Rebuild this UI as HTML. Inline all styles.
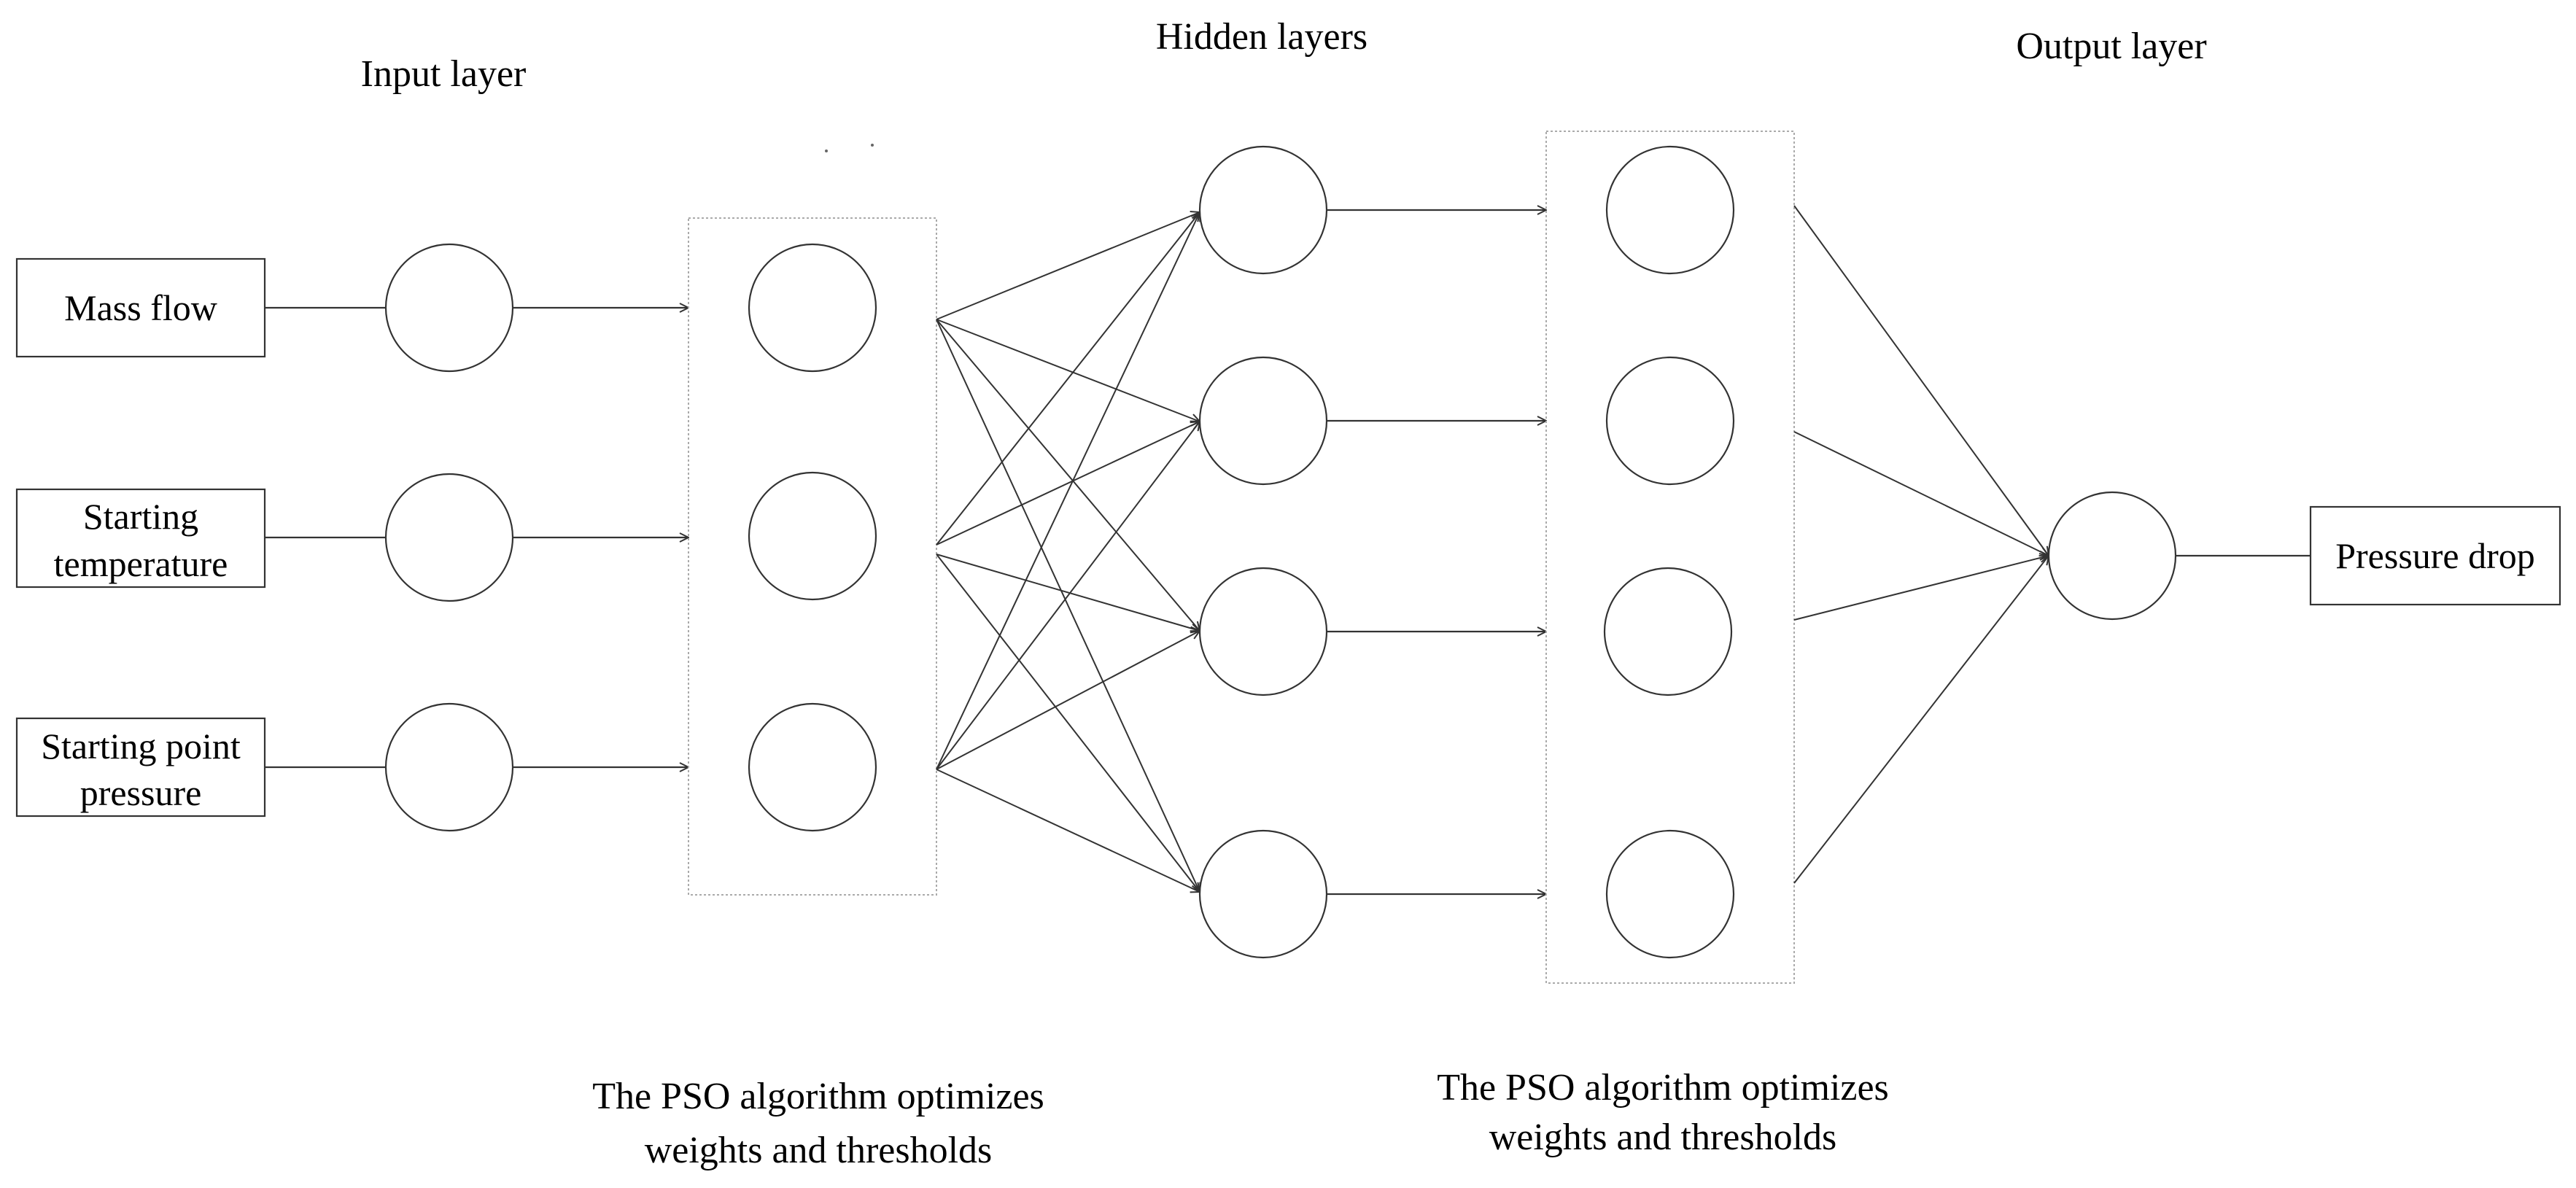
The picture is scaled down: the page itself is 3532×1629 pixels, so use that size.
<!DOCTYPE html>
<html><head><meta charset="utf-8"><style>
html,body{margin:0;padding:0;background:#fff;}
svg{display:block;}
text{font-family:"Liberation Serif",serif;fill:#000;}
</style></head><body>
<svg width="3532" height="1629" viewBox="0 0 3532 1629" xmlns="http://www.w3.org/2000/svg">
<defs>
<marker id="a" markerWidth="14" markerHeight="14" refX="13" refY="7" orient="auto" markerUnits="userSpaceOnUse">
<path d="M1,1 L13,7 L1,13" fill="none" stroke="#333" stroke-width="2"/>
</marker>
</defs>
<g stroke="#333" stroke-width="2.2" fill="none">
<!-- input boxes -->
<rect x="23" y="355" width="340" height="134"/>
<rect x="23" y="671" width="340" height="134"/>
<rect x="23" y="985" width="340" height="134"/>
<!-- input circles -->
<circle cx="616" cy="422" r="87"/>
<circle cx="616" cy="737" r="87"/>
<circle cx="616" cy="1052" r="87"/>
<line x1="363" y1="422" x2="529" y2="422"/>
<line x1="363" y1="737" x2="529" y2="737"/>
<line x1="363" y1="1052" x2="529" y2="1052"/>
<line x1="703" y1="422" x2="944" y2="422" marker-end="url(#a)"/>
<line x1="703" y1="737" x2="944" y2="737" marker-end="url(#a)"/>
<line x1="703" y1="1052" x2="944" y2="1052" marker-end="url(#a)"/>
<!-- first hidden box -->
<rect x="944" y="299" width="340" height="928" stroke="#aaa" stroke-width="2" stroke-dasharray="3,3"/>
<circle cx="1114" cy="422" r="87"/>
<circle cx="1114" cy="735" r="87"/>
<circle cx="1114" cy="1052" r="87"/>
<!-- full connections -->
<g stroke-width="2">
<line x1="1284" y1="438" x2="1645" y2="291" marker-end="url(#a)"/>
<line x1="1284" y1="438" x2="1645" y2="578" marker-end="url(#a)"/>
<line x1="1284" y1="438" x2="1645" y2="865" marker-end="url(#a)"/>
<line x1="1284" y1="438" x2="1645" y2="1223" marker-end="url(#a)"/>
<line x1="1284" y1="747" x2="1645" y2="291" marker-end="url(#a)"/>
<line x1="1284" y1="747" x2="1645" y2="578" marker-end="url(#a)"/>
<line x1="1284" y1="760" x2="1645" y2="865" marker-end="url(#a)"/>
<line x1="1284" y1="760" x2="1645" y2="1223" marker-end="url(#a)"/>
<line x1="1284" y1="1055" x2="1645" y2="291" marker-end="url(#a)"/>
<line x1="1284" y1="1055" x2="1645" y2="578" marker-end="url(#a)"/>
<line x1="1284" y1="1055" x2="1645" y2="865" marker-end="url(#a)"/>
<line x1="1284" y1="1055" x2="1645" y2="1223" marker-end="url(#a)"/>
</g>
<!-- hidden 1 circles -->
<circle cx="1732" cy="288" r="87"/>
<circle cx="1732" cy="577" r="87"/>
<circle cx="1732" cy="866" r="87"/>
<circle cx="1732" cy="1226" r="87"/>
<line x1="1819" y1="288" x2="2120" y2="288" marker-end="url(#a)"/>
<line x1="1819" y1="577" x2="2120" y2="577" marker-end="url(#a)"/>
<line x1="1819" y1="866" x2="2120" y2="866" marker-end="url(#a)"/>
<line x1="1819" y1="1226" x2="2120" y2="1226" marker-end="url(#a)"/>
<!-- second hidden box -->
<rect x="2120" y="180" width="340" height="1168" stroke="#aaa" stroke-width="2" stroke-dasharray="3,3"/>
<circle cx="2290" cy="288" r="87"/>
<circle cx="2290" cy="577" r="87"/>
<circle cx="2287" cy="866" r="87"/>
<circle cx="2290" cy="1226" r="87"/>
<g stroke-width="2">
<line x1="2460" y1="282" x2="2809" y2="762" marker-end="url(#a)"/>
<line x1="2460" y1="592" x2="2809" y2="762" marker-end="url(#a)"/>
<line x1="2460" y1="850" x2="2809" y2="762" marker-end="url(#a)"/>
<line x1="2460" y1="1211" x2="2809" y2="762" marker-end="url(#a)"/>
</g>
<circle cx="2896" cy="762" r="87"/>
<line x1="2983" y1="762" x2="3168" y2="762"/>
<rect x="3168" y="695" width="342" height="134"/>
</g>
<g font-size="50" text-anchor="middle">
<text x="193" y="439">Mass flow</text>
<text x="193" y="725">Starting</text>
<text x="193" y="790">temperature</text>
<text x="193" y="1040">Starting point</text>
<text x="193" y="1104">pressure</text>
<text x="3339" y="779">Pressure drop</text>
</g>
<g font-size="52" text-anchor="middle">
<text x="608" y="118">Input layer</text>
<text x="1730" y="67">Hidden layers</text>
<text x="2895" y="80">Output layer</text>
<text x="1122" y="1520">The PSO algorithm optimizes</text>
<text x="1122" y="1594">weights and thresholds</text>
<text x="2280" y="1508">The PSO algorithm optimizes</text>
<text x="2280" y="1576">weights and thresholds</text>
</g>
<circle cx="1133" cy="207" r="2" fill="#666"/>
<circle cx="1196" cy="199" r="2" fill="#666"/>
</svg>
</body></html>
